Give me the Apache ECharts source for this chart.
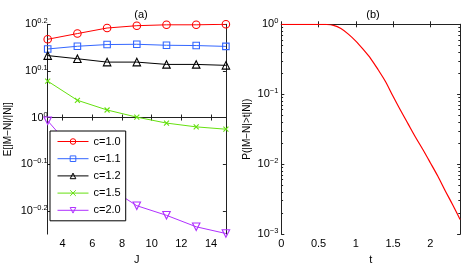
<!DOCTYPE html>
<html><head><meta charset="utf-8">
<script src="https://cdn.jsdelivr.net/npm/echarts@6/dist/echarts.min.js"></script>
<style>html,body{margin:0;padding:0;background:#fff}#c{width:464px;height:270px}</style>
</head><body><div id="c"></div>
<script>
// ---- Data (a) ----
const J = [3, 5, 7, 9, 11, 13, 15];
const seriesNames = ['c=1.0', 'c=1.1', 'c=1.2', 'c=1.5', 'c=2.0'];
const c10 = [1.472, 1.514, 1.556, 1.574, 1.581, 1.581, 1.585];
const c11 = [1.403, 1.422, 1.434, 1.436, 1.429, 1.427, 1.421];
const c12 = [1.358, 1.337, 1.315, 1.315, 1.300, 1.300, 1.294];
const c15 = [1.197, 1.089, 1.038, 1.002, 0.973, 0.955, 0.944];
const c20 = [0.984, 0.832, 0.711, 0.647, 0.617, 0.583, 0.564];
const jTicks = [4, 6, 8, 10, 12, 14];
const aExpTicks = [-0.2, -0.1, 0, 0.1, 0.2];
// ---- Data (b) ----
const T = [0, 0.1, 0.2, 0.3, 0.4, 0.5, 0.6, 0.7, 0.8, 0.9, 1.0, 1.1, 1.2, 1.3, 1.4, 1.5, 1.6, 1.7, 1.8, 1.9, 2.0, 2.1, 2.2, 2.3, 2.4];
const P = [1, 1, 1, 1, 1, 1, 0.995, 0.966, 0.871, 0.724, 0.575, 0.437, 0.324, 0.224, 0.151, 0.0933, 0.0589, 0.0380, 0.0245, 0.0162, 0.0105, 0.00676, 0.00417, 0.00263, 0.00162];
const tTicks = [0, 0.5, 1, 1.5, 2];
const bExpTicks = [-3, -2, -1, 0];
const bMinor = [];
for (let d = -3; d < 0; d++) for (let m = 2; m <= 9; m++) bMinor.push(d + Math.log10(m));

const FONT = 'Liberation Sans';
const axisCol = '#222';
const rich = {
  b: {fontSize: 11, lineHeight: 14, fontFamily: FONT, color: '#000'},
  s: {fontSize: 7.5, lineHeight: 8, verticalAlign: 'top', fontFamily: FONT, color: '#000'}
};
function expLabel(v, digits) {
  const r = Math.round(v * digits) / digits;
  let s = r === 0 ? '0' : String(Math.abs(r));
  if (r < 0) s = '\u2212' + s;
  return '{b|10}{s|' + s + '}';
}
function tickAxis(extra) {
  return Object.assign({
    type: 'value',
    axisLine: {show: true, lineStyle: {color: axisCol, width: 1}},
    axisLabel: {show: false},
    splitLine: {show: false}
  }, extra);
}

const colors = ['#ff0000', '#3366ff', '#000000', '#66e010', '#b030ff'];
const symbols = ['circle', 'rect', 'triangle', 'path://M0,0L10,10M10,0L0,10', 'triangle'];
const sizes = [7.5, 6.5, 7.5, 5, 7.5];
const rot = [0, 0, 0, 0, 180];
const aData = [c10, c11, c12, c15, c20];

const series = aData.map((vals, k) => ({
  name: seriesNames[k], type: 'line', xAxisIndex: 0, yAxisIndex: 0,
  data: J.map((j, i) => [j, Math.log10(vals[i])]),
  symbol: symbols[k], symbolSize: sizes[k], symbolRotate: rot[k], showSymbol: true,
  lineStyle: {color: colors[k], width: 1, type: 'solid'},
  itemStyle: {color: k === 3 ? colors[k] : 'rgba(255,255,255,0)', borderColor: colors[k], borderWidth: 1.1},
  emphasis: {disabled: true}, animation: false, z: 2
}));
series.push({
  name: 'b', type: 'line', xAxisIndex: 2, yAxisIndex: 2,
  data: T.map((t, i) => [t, Math.log10(P[i])]),
  showSymbol: false, smooth: 0.3, lineStyle: {color: '#ff0000', width: 1.2},
  emphasis: {disabled: true}, animation: false
});

const option = {
  animation: false,
  textStyle: {fontFamily: FONT},
  title: [
    {text: '(a)', left: 136, top: 4, textAlign: 'center', textStyle: {fontSize: 11, fontWeight: 'normal', fontFamily: FONT, color: '#000'}},
    {text: '(b)', left: 368, top: 4, textAlign: 'center', textStyle: {fontSize: 11, fontWeight: 'normal', fontFamily: FONT, color: '#000'}}
  ],
  grid: [
    {left: 47.7, top: 24.3, width: 178.2, height: 217.6},
    {left: 281.3, top: 24.3, width: 178.8, height: 217}
  ],
  legend: {
    data: seriesNames, orient: 'vertical', left: 50, top: 131,
    itemWidth: 31, itemHeight: 7, itemGap: 6.2, padding: [5, 5, 5, 7],
    borderColor: '#000', borderWidth: 1, borderRadius: 0, backgroundColor: '#fff',
    lineStyle: {width: 1}, itemStyle: {borderWidth: 1},
    textStyle: {fontSize: 11, fontFamily: FONT, color: '#000'}, selectedMode: false
  },
  xAxis: [
    tickAxis({gridIndex: 0, min: 3, max: 15, position: 'bottom',
      axisTick: {show: true, inside: true, length: 3, customValues: jTicks, lineStyle: {color: axisCol}},
      axisLabel: {show: true, customValues: jTicks, fontSize: 11, margin: 4, color: '#000', fontFamily: FONT},
      name: 'J', nameLocation: 'middle', nameGap: 15, nameTextStyle: {fontSize: 11, color: '#000', fontFamily: FONT}}),
    tickAxis({gridIndex: 0, min: 3, max: 15, position: 'top',
      axisTick: {show: true, inside: true, length: 3, customValues: jTicks, lineStyle: {color: axisCol}}}),
    tickAxis({gridIndex: 1, min: 0, max: 2.4, position: 'bottom',
      axisTick: {show: true, inside: true, length: 3, customValues: tTicks, lineStyle: {color: axisCol}},
      axisLabel: {show: true, customValues: tTicks, fontSize: 11, margin: 4, color: '#000', fontFamily: FONT},
      name: 't', nameLocation: 'middle', nameGap: 15, nameTextStyle: {fontSize: 11, color: '#000', fontFamily: FONT}}),
    tickAxis({gridIndex: 1, min: 0, max: 2.4, position: 'top',
      axisTick: {show: true, inside: true, length: 3, customValues: tTicks, lineStyle: {color: axisCol}}})
  ],
  yAxis: [
    tickAxis({gridIndex: 0, min: -0.25, max: 0.2, position: 'left',
      axisTick: {show: true, inside: true, length: 3, customValues: aExpTicks, lineStyle: {color: axisCol}},
      axisLabel: {show: true, customValues: aExpTicks, margin: 0, formatter: v => expLabel(v, 10), rich: rich},
      name: 'E[|M\u2212N|/|N|]', nameLocation: 'middle', nameGap: 34, nameRotate: 90,
      nameTextStyle: {fontSize: 10, color: '#000', fontFamily: FONT}}),
    tickAxis({gridIndex: 0, min: -0.25, max: 0.2, position: 'right',
      axisTick: {show: true, inside: true, length: 3, customValues: aExpTicks, lineStyle: {color: axisCol}}}),
    tickAxis({gridIndex: 1, min: -3, max: 0, position: 'left',
      axisTick: {show: true, inside: true, length: 3, customValues: bExpTicks, lineStyle: {color: axisCol}},
      axisLabel: {show: true, customValues: bExpTicks, margin: 3, formatter: v => expLabel(v, 1), rich: rich},
      name: 'P(|M\u2212N|>t|N|)', nameLocation: 'middle', nameGap: 29, nameRotate: 90,
      nameTextStyle: {fontSize: 10, color: '#000', fontFamily: FONT}}),
    tickAxis({gridIndex: 1, min: -3, max: 0, position: 'left',
      axisTick: {show: true, inside: true, length: 1.8, customValues: bMinor, lineStyle: {color: axisCol}}}),
    tickAxis({gridIndex: 1, min: -3, max: 0, position: 'right',
      axisTick: {show: true, inside: true, length: 3, customValues: bExpTicks, lineStyle: {color: axisCol}}}),
    tickAxis({gridIndex: 1, min: -3, max: 0, position: 'right',
      axisTick: {show: true, inside: true, length: 1.8, customValues: bMinor, lineStyle: {color: axisCol}}})
  ],
  series: series
};
const chart = echarts.init(document.getElementById('c'), null, {renderer: 'canvas'});
chart.setOption(option);
</script></body></html>
